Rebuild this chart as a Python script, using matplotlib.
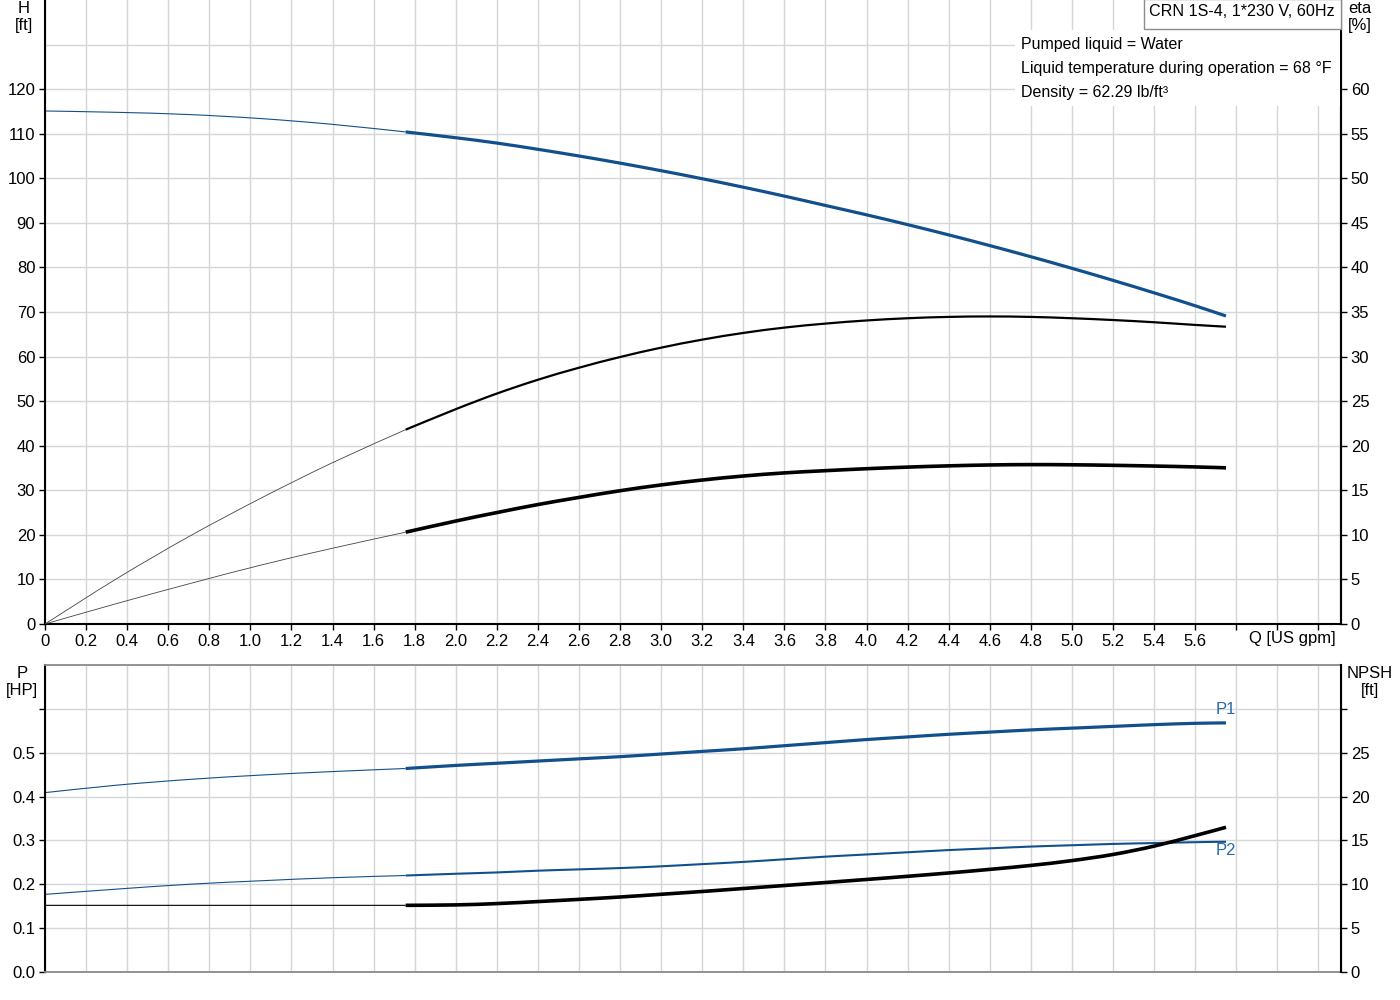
"""
Pump performance curve: CRN 1S-4, head / efficiency on top, power / NPSH below.
"""

import matplotlib

matplotlib.use("Agg")
import matplotlib.pyplot as plt
from matplotlib.patches import PathPatch, Rectangle
from matplotlib.path import Path
import numpy as np

plt.rcParams["font.family"] = ["Liberation Sans", "DejaVu Sans"]
plt.rcParams["font.size"] = 12

# ---- data ------------------------------------------------------------------
# flow [US gpm]; thin part = outside recommended range, thick part = inside
q_thin = [0.0, 0.35, 0.7, 1.05, 1.4, 1.756]
q_thick = [1.756, 2.0, 2.2, 2.4, 2.6, 2.8, 3.0, 3.2, 3.4, 3.6, 3.8, 4.0,
           4.2, 4.4, 4.6, 4.8, 5.0, 5.2, 5.4, 5.6, 5.75]

head_thin = [115.1, 114.8, 114.3, 113.4, 112.1, 110.4]
head_thick = [110.4, 109.1, 107.9, 106.5, 105.0, 103.4, 101.7, 99.9, 98.0,
              96.0, 93.9, 91.8, 89.6, 87.3, 84.9, 82.4, 79.8, 77.1, 74.3,
              71.4, 69.1]

eta_pump_thin = [0.0, 5.1, 9.8, 14.1, 18.1, 21.8]
eta_pump_thick = [21.8, 24.1, 25.85, 27.4, 28.75, 29.95, 31.0, 31.9, 32.65,
                  33.25, 33.7, 34.05, 34.3, 34.45, 34.5, 34.45, 34.3, 34.1,
                  33.85, 33.55, 33.35]

eta_total_thin = [0.0, 2.3, 4.5, 6.6, 8.5, 10.3]
eta_total_thick = [10.3, 11.55, 12.5, 13.4, 14.2, 14.95, 15.6, 16.15, 16.6,
                   16.95, 17.2, 17.42, 17.6, 17.74, 17.84, 17.88, 17.86, 17.8,
                   17.72, 17.62, 17.52]

p1_thin = [0.409, 0.426, 0.439, 0.449, 0.457, 0.464]
p1_thick = [0.464, 0.471, 0.476, 0.481, 0.486, 0.491, 0.497, 0.503, 0.509,
            0.516, 0.523, 0.530, 0.536, 0.542, 0.547, 0.552, 0.556, 0.560,
            0.564, 0.567, 0.568]

p2_thin = [0.177, 0.189, 0.200, 0.208, 0.215, 0.220]
p2_thick = [0.220, 0.224, 0.227, 0.231, 0.234, 0.237, 0.241, 0.246, 0.251,
            0.257, 0.263, 0.268, 0.273, 0.278, 0.282, 0.286, 0.289, 0.292,
            0.294, 0.296, 0.297]

npsh_thin = [7.6, 7.6, 7.6, 7.6, 7.6, 7.6]
npsh_thick = [7.6, 7.65, 7.8, 8.03, 8.28, 8.55, 8.86, 9.18, 9.52, 9.86, 10.2,
              10.55, 10.91, 11.29, 11.7, 12.15, 12.7, 13.4, 14.35, 15.55, 16.5]

q_ticks = np.round(np.arange(0, 6.21, 0.2), 1)
q_labels = ["0"] + [f"{v:.1f}" for v in q_ticks[1:29]] + ["", "", ""]

head_ticks = np.arange(0, 121, 10)
eta_ticks = np.arange(0, 61, 5)
p_ticks = np.round(np.arange(0, 0.61, 0.1), 1)
p_labels = [f"{v:.1f}" for v in p_ticks[:-1]] + [""]
npsh_ticks = np.arange(0, 31, 5)
npsh_labels = [str(v) for v in npsh_ticks[:-1]] + [""]

BLUE = "#11508c"
LABEL_BLUE = "#2a6aa8"
GRID = "#d3d6d9"

W, H = 1400, 1000


def fx(px):
    return px / W


def fy(py):
    return 1 - py / H


def smooth_curve(ax, xs, ys, **kw):
    """Draw a smooth (Catmull-Rom as cubic Bezier) curve through the points."""
    pts = np.column_stack([xs, ys]).astype(float)
    n = len(pts)
    verts = [pts[0]]
    codes = [Path.MOVETO]
    for i in range(n - 1):
        p0 = pts[max(i - 1, 0)]
        p1 = pts[i]
        p2 = pts[i + 1]
        p3 = pts[min(i + 2, n - 1)]
        c1 = p1 + (p2 - p0) / 6.0
        c2 = p2 - (p3 - p1) / 6.0
        verts += [c1, c2, p2]
        codes += [Path.CURVE4] * 3
    patch = PathPatch(Path(verts, codes), fill=False, capstyle="butt",
                      joinstyle="round", **kw)
    ax.add_patch(patch)
    return patch


def style_axes(ax):
    ax.set_xlim(0, 6.31)
    ax.set_xticks(q_ticks)
    ax.grid(True, which="both", color=GRID, linewidth=1.0)
    ax.set_axisbelow(True)
    ax.tick_params(direction="out", length=4, width=1, colors="black",
                   labelsize=12, pad=3)
    ax.spines["left"].set_linewidth(1.5)


fig = plt.figure(figsize=(14, 10), dpi=100)

# ---- top panel: head and efficiency ----------------------------------------
ax_h = fig.add_axes([fx(45), fy(624), fx(1341 - 45), 0.624])
style_axes(ax_h)
ax_h.set_ylim(0, 140)
ax_h.set_yticks(head_ticks)
ax_h.set_yticks([130], minor=True)
ax_h.tick_params(which="minor", length=0)
ax_h.set_xticklabels(q_labels)
ax_h.spines["top"].set_visible(False)
ax_h.spines["bottom"].set_linewidth(1.5)
ax_h.spines["right"].set_linewidth(1.5)

smooth_curve(ax_h, q_thin, head_thin, edgecolor=BLUE, lw=0.8)
smooth_curve(ax_h, q_thick, head_thick, edgecolor=BLUE, lw=2.3)

ax_eta = ax_h.twinx()
ax_eta.set_ylim(0, 70)
ax_eta.set_yticks(eta_ticks)
ax_eta.tick_params(direction="out", length=4, width=1, labelsize=12, pad=3)
for side in ("top", "left", "bottom"):
    ax_eta.spines[side].set_visible(False)
ax_eta.spines["right"].set_linewidth(1.5)
smooth_curve(ax_eta, q_thin, eta_pump_thin, edgecolor="#444444", lw=0.6)
smooth_curve(ax_eta, q_thick, eta_pump_thick, edgecolor="black", lw=1.6)
smooth_curve(ax_eta, q_thin, eta_total_thin, edgecolor="#444444", lw=0.6)
smooth_curve(ax_eta, q_thick, eta_total_thick, edgecolor="black", lw=2.6)

# ---- bottom panel: power and NPSH ------------------------------------------
ax_p = fig.add_axes([fx(45), fy(972), fx(1341 - 45), fy(665) - fy(972)])
style_axes(ax_p)
ax_p.set_ylim(0, 0.7)
ax_p.set_yticks(p_ticks)
ax_p.set_yticklabels(p_labels)
ax_p.tick_params(axis="x", length=0, labelbottom=False)
for side in ("top", "bottom"):
    ax_p.spines[side].set_color("#8a8a8a")
    ax_p.spines[side].set_linewidth(1.3)

smooth_curve(ax_p, q_thin, p1_thin, edgecolor=BLUE, lw=0.8)
smooth_curve(ax_p, q_thick, p1_thick, edgecolor=BLUE, lw=2.3)
smooth_curve(ax_p, q_thin, p2_thin, edgecolor=BLUE, lw=0.8)
smooth_curve(ax_p, q_thick, p2_thick, edgecolor=BLUE, lw=1.5)
ax_p.annotate("P1", (q_thick[-1], p1_thick[-1]), xytext=(0, 10),
              textcoords="offset points", ha="center", va="center",
              color=LABEL_BLUE, fontsize=12)
ax_p.annotate("P2", (q_thick[-1], p2_thick[-1]), xytext=(0, -6),
              textcoords="offset points", ha="center", va="center",
              color=LABEL_BLUE, fontsize=12)

ax_n = ax_p.twinx()
ax_n.set_ylim(0, 35)
ax_n.set_yticks(npsh_ticks)
ax_n.set_yticklabels(npsh_labels)
ax_n.tick_params(direction="out", length=4, width=1, labelsize=12, pad=3)
for side in ("top", "left", "bottom"):
    ax_n.spines[side].set_visible(False)
ax_n.spines["right"].set_linewidth(1.5)
smooth_curve(ax_n, q_thin, npsh_thin, edgecolor="black", lw=0.8)
smooth_curve(ax_n, q_thick, npsh_thick, edgecolor="black", lw=2.6)

# ---- axis captions -----------------------------------------------------------
fig.text(fx(24), fy(17), "H\n[ft]", ha="center", va="center", linespacing=1.15)
fig.text(fx(1360), fy(17), "eta\n[%]", ha="center", va="center", linespacing=1.15)
fig.text(fx(22), fy(682), "P\n[HP]", ha="center", va="center", linespacing=1.15)
fig.text(fx(1370), fy(682), "NPSH\n[ft]", ha="center", va="center", linespacing=1.15)
fig.text(fx(1292), fy(639), "Q [US gpm]", ha="center", va="center")

# ---- title box and liquid info -------------------------------------------------
fig.add_artist(Rectangle((fx(1015), fy(106)), fx(1340 - 1015), 76 / H,
                         transform=fig.transFigure, facecolor="white",
                         edgecolor="none", zorder=2))
fig.add_artist(Rectangle((fx(1144), fy(29)), fx(1341 - 1144), 30 / H,
                         transform=fig.transFigure, facecolor="white",
                         edgecolor="#8c8c8c", linewidth=1.0, zorder=3))
fig.text(fx(1242), fy(12), "CRN 1S-4, 1*230 V, 60Hz", ha="center", va="center",
         fontsize=11.6, zorder=4)
info_lines = ["Pumped liquid = Water",
              "Liquid temperature during operation = 68 °F",
              "Density = 62.29 lb/ft³"]
for i, line in enumerate(info_lines):
    fig.text(fx(1021), fy(44 + 24 * i), line, ha="left", va="center",
             fontsize=11.55, zorder=4)

fig.savefig("out.png", dpi=100)
